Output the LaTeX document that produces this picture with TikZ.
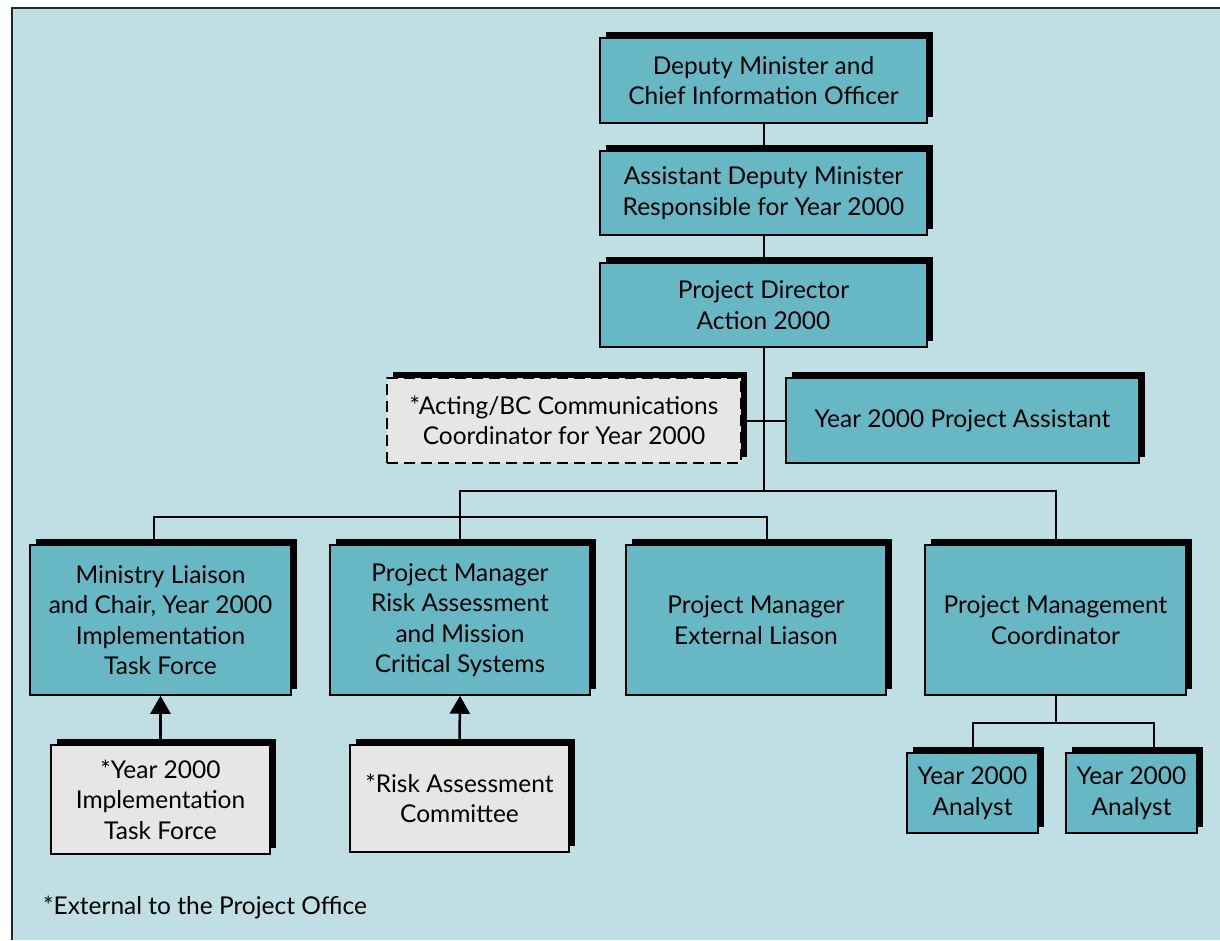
\documentclass[tikz,border=0pt]{standalone}
\usepackage{fontspec}
\setmainfont{Lato}
\usetikzlibrary{shadows,arrows.meta,calc}
\definecolor{bgc}{RGB}{191,223,228}
\definecolor{boxc}{RGB}{103,184,196}
\definecolor{grayc}{RGB}{230,230,230}
\begin{document}
\begin{tikzpicture}[x=1pt,y=-1pt,
  every node/.style={font=\fontsize{24.5}{30.5}\selectfont, align=center, inner sep=0pt},
  orgbox/.style={draw=black, line width=1.5pt, fill=boxc,
     general shadow={fill=black, shadow xshift=6pt, shadow yshift=6pt}},
  extbox/.style={orgbox, fill=grayc},
  conn/.style={line width=2pt},
  arr/.style={line width=2.5pt, -{Triangle[width=20pt 0 1,length=18pt 0 1]}}]
\useasboundingbox (0,0) rectangle (1220,940);
\fill[bgc] (12,8) rectangle (1220,940);
\draw[line width=2pt, black!85] (12,940) -- (12,8) -- (1220,8);

% top chain
\node[orgbox, minimum width=327pt, minimum height=85pt] (dep) at (763.5,80.5) {Deputy Minister and\\Chief Information Officer};
\node[orgbox, minimum width=327pt, minimum height=84pt] (adm) at (763.5,193) {Assistant Deputy Minister\\Responsible for Year 2000};
\node[orgbox, minimum width=327pt, minimum height=84pt] (dir) at (763.5,305) {Project Director\\Action 2000};

% side boxes
\node[extbox, dash pattern=on 11pt off 6pt, minimum width=354pt, minimum height=85pt] (act) at (564,420.5) {*Acting/BC Communications\\Coordinator for Year 2000};
\node[orgbox, minimum width=353pt, minimum height=85pt] (pa) at (962.5,420.5) {Year 2000 Project Assistant};

% managers
\node[orgbox, minimum width=261pt, minimum height=150pt] (min) at (160.5,620) {Ministry Liaison\\and Chair, Year 2000\\Implementation\\Task Force};
\node[orgbox, minimum width=260pt, minimum height=150pt] (risk) at (460,620) {Project Manager\\Risk Assessment\\and Mission\\Critical Systems};
\node[orgbox, minimum width=260pt, minimum height=150pt] (ext) at (756,620) {Project Manager\\External Liason};
\node[orgbox, minimum width=261pt, minimum height=150pt] (coord) at (1055.5,620) {Project Management\\Coordinator};

% external committees
\node[extbox, minimum width=219pt, minimum height=109pt] (tf) at (160.5,799.5) {*Year 2000\\Implementation\\Task Force};
\node[extbox, minimum width=219pt, minimum height=107pt] (rc) at (459.5,798.5) {*Risk Assessment\\Committee};

% analysts
\node[orgbox, minimum width=131pt, minimum height=80pt] (an1) at (972.5,793) {Year 2000\\Analyst};
\node[orgbox, minimum width=131pt, minimum height=80pt] (an2) at (1131.5,793) {Year 2000\\Analyst};

% footnote
\node[anchor=west] (note) at (43,907) {*External to the Project Office};

% connectors
\coordinate (h1) at (763.5,491);
\coordinate (l1) at (154,517);
\coordinate (r1) at (767,517);
\coordinate (a1) at (1154,723);

\draw[conn] (dep.south) -- (adm.north);
\draw[conn] (adm.south) -- (dir.north);
\draw[conn] (dir.south) -- (h1);
\draw[conn] (act.east) -- (pa.west);
\draw[conn] (risk.north) -- (risk.north |- h1) -- (coord.north |- h1) -- (coord.north);
\draw[conn] (l1 |- min.north) -- (l1) -- (r1) -- (r1 |- ext.north);
\draw[conn] (coord.south) -- (coord.south |- a1);
\draw[conn] (an1.north) -- (an1.north |- a1) -- (a1) -- (a1 |- an2.north);
\draw[arr] (tf.north) -- (min.south);
\draw[arr] (rc.north) -- (risk.south);
\end{tikzpicture}
\end{document}
